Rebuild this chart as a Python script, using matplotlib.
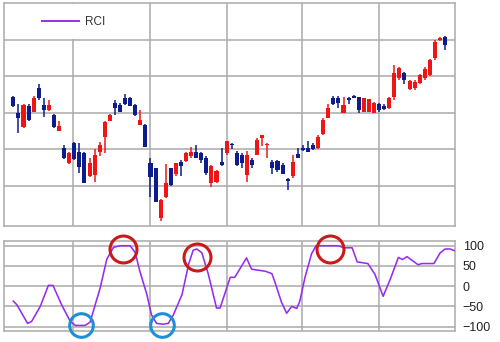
import matplotlib
matplotlib.use('Agg')
import matplotlib.pyplot as plt
from matplotlib.patches import Rectangle
from matplotlib.lines import Line2D

plt.rcParams['font.family'] = ['Liberation Sans', 'DejaVu Sans']

# daily candles (86 sessions), price units arbitrary (no axis labels in the source)
opens = [1343, 1300, 1262, 1318, 1303, 1368, 1321, 1307, 1294, 1251,
         1202, 1161, 1218, 1193, 1189, 1125, 1129, 1193, 1234, 1278,
         1327, 1321, 1341, 1340, 1321, 1266, 1266, 1162, 1148, 1011,
         1070, 1148, 1131, 1164, 1168, 1180, 1192, 1189, 1175, 1107,
         1109, 1166, 1189, 1215, 1189, 1184, 1129, 1170, 1184, 1231,
         1212, 1164, 1168, 1157, 1118, 1125, 1186, 1204, 1202, 1210,
         1202, 1241, 1286, 1341, 1341, 1299, 1341, 1347, 1343, 1303,
         1303, 1300, 1324, 1318, 1312, 1342, 1395, 1408, 1366, 1368,
         1381, 1395, 1403, 1449, 1498, 1507]
highs = [1346, 1324, 1324, 1324, 1346, 1379, 1340, 1335, 1296, 1278,
         1210, 1193, 1220, 1217, 1192, 1175, 1200, 1220, 1277, 1296,
         1335, 1327, 1351, 1343, 1324, 1307, 1269, 1176, 1149, 1064,
         1159, 1149, 1162, 1170, 1192, 1207, 1210, 1192, 1180, 1157,
         1143, 1204, 1223, 1216, 1195, 1189, 1195, 1177, 1230, 1239,
         1216, 1170, 1170, 1162, 1122, 1184, 1204, 1211, 1221, 1217,
         1239, 1286, 1323, 1346, 1346, 1343, 1343, 1349, 1344, 1340,
         1338, 1328, 1327, 1324, 1343, 1431, 1425, 1412, 1390, 1390,
         1406, 1425, 1447, 1499, 1507, 1510]
lows = [1316, 1244, 1258, 1277, 1302, 1335, 1289, 1305, 1258, 1250,
        1173, 1159, 1170, 1135, 1106, 1124, 1111, 1180, 1189, 1277,
        1294, 1302, 1321, 1317, 1292, 1265, 1206, 1069, 1055, 1003,
        1066, 1099, 1127, 1125, 1165, 1175, 1175, 1161, 1129, 1097,
        1107, 1155, 1184, 1201, 1155, 1149, 1109, 1149, 1183, 1209,
        1177, 1132, 1138, 1131, 1088, 1122, 1176, 1195, 1192, 1198,
        1201, 1239, 1285, 1321, 1314, 1298, 1324, 1339, 1298, 1302,
        1302, 1299, 1302, 1307, 1310, 1335, 1390, 1379, 1362, 1362,
        1379, 1390, 1401, 1444, 1497, 1472]
closes = [1318, 1285, 1321, 1280, 1340, 1340, 1307, 1321, 1262, 1264,
          1175, 1190, 1172, 1152, 1108, 1161, 1184, 1211, 1275, 1294,
          1312, 1303, 1323, 1318, 1294, 1280, 1207, 1124, 1056, 1061,
          1107, 1102, 1161, 1155, 1189, 1192, 1177, 1170, 1134, 1155,
          1140, 1157, 1221, 1212, 1157, 1161, 1184, 1157, 1225, 1238,
          1215, 1149, 1143, 1133, 1113, 1164, 1177, 1198, 1193, 1201,
          1234, 1280, 1314, 1323, 1326, 1321, 1335, 1341, 1307, 1340,
          1337, 1327, 1307, 1309, 1340, 1408, 1423, 1390, 1387, 1384,
          1403, 1420, 1444, 1494, 1505, 1486]

# RCI line vertices (session position, value)
rci_x = [0, 0.7, 2.8, 3.6, 5.3, 6.9, 7.8, 9.5, 11.2, 12.2,
         14.1, 15.1, 17.1, 18.4, 19.7, 21.0, 23.0, 24.0, 24.9, 26.3,
         27.2, 28.2, 29.5, 30.5, 31.5, 33.2, 34.5, 35.4, 36.1, 37.1,
         38.4, 40.0, 40.7, 42.7, 43.6, 45.9, 46.9, 49.6, 50.9, 51.5,
         52.8, 53.8, 54.8, 55.8, 56.4, 57.4, 58.7, 59.6, 64.0, 65.1,
         66.7, 67.7, 69.8, 71.2, 72.8, 74.2, 75.8, 76.6, 77.5, 79.7,
         80.4, 82.8, 84.0, 85.0, 86.0, 86.8]
rci_v = [-37, -46, -92, -87, -50, 2, 2, -46, -87, -97,
         -97, -89, -4, 67, 96, 100, 100, 83, 37, -21,
         -71, -92, -94, -92, -71, -21, 54, 89, 92, 83,
         29, -54, -54, 22, 22, 70, 42, 37, 31, 10,
         -40, -67, -50, -55, -37, 21, 80, 100, 100, 95,
         95, 60, 56, 29, -25, 17, 71, 66, 73, 53,
         56, 56, 82, 92, 92, 88]

# highlighted turning points
peak_x = [21.6, 36.1, 62.3]
peak_y = [92, 73, 92]
trough_x = [13.3, 29.2]
trough_y = [-97, -96]

period_lines = [11.8, 26.9, 42.05, 56.8, 72.0]
price_grid = [1100, 1200, 1300, 1400, 1500]
rci_ticks = [-100, -50, 0, 50, 100]

grid_col = '#adadad'
rci_col = '#962cf0'
up_col = '#f01414'
down_col = '#0c1c8c'

fig = plt.figure(figsize=(5, 3.42), dpi=100)
ax = fig.add_axes([0.0074, 0.340, 0.9026, 0.6504])
ax2 = fig.add_axes([0.0074, 0.0316, 0.9026, 0.2646])

for a in (ax, ax2):
    a.set_xlim(-1.9, 86.95)
    a.set_xticks(period_lines)
    a.grid(True, color=grid_col, lw=1.15)
    a.set_axisbelow(True)
    a.tick_params(length=0, labelbottom=False, labelleft=False)
    for s in a.spines.values():
        s.set_color(grid_col)
        s.set_linewidth(1.15)

# candles
ax.set_ylim(990, 1600)
ax.set_yticks(price_grid)
idx = list(range(len(opens)))
cols = [up_col if c >= o else down_col for o, c in zip(opens, closes)]
ax.vlines(idx, lows, highs, colors=cols, lw=1.1, zorder=2)
ax.bar(idx, [max(abs(c - o), 2) for o, c in zip(opens, closes)],
       bottom=[min(o, c) for o, c in zip(opens, closes)],
       width=0.8, color=cols, linewidth=0, zorder=3)

# legend box in the upper left cell
ax.add_patch(Rectangle((0.004, 0.838), 0.318, 0.158, transform=ax.transAxes,
                       facecolor='white', edgecolor='none', zorder=1))
ax.legend([Line2D([], [], color=rci_col, lw=1.4)], ['RCI'],
          loc='center left', bbox_to_anchor=(0.0842, 0.916),
          frameon=False, borderpad=0, borderaxespad=0,
          handlelength=3.2, handletextpad=0.45, fontsize=8.5,
          labelcolor='#333333')

# RCI panel
ax2.set_ylim(-111.25, 112.5)
ax2.set_yticks(rci_ticks)
ax2.yaxis.tick_right()
ax2.tick_params(labelright=True, labelleft=False, length=0, pad=5.5,
                labelsize=9, labelcolor='#222222')
ax2.plot(rci_x, rci_v, color=rci_col, lw=1.15, zorder=3)
ax2.plot(peak_x, peak_y, 'o', ms=19.4, mfc='none', mec='#cc1818',
         mew=2.2, clip_on=False, zorder=5)
ax2.plot(trough_x, trough_y, 'o', ms=17, mfc='none', mec='#1e8fd5',
         mew=2.2, clip_on=False, zorder=5)

fig.savefig('out.png', dpi=100)
